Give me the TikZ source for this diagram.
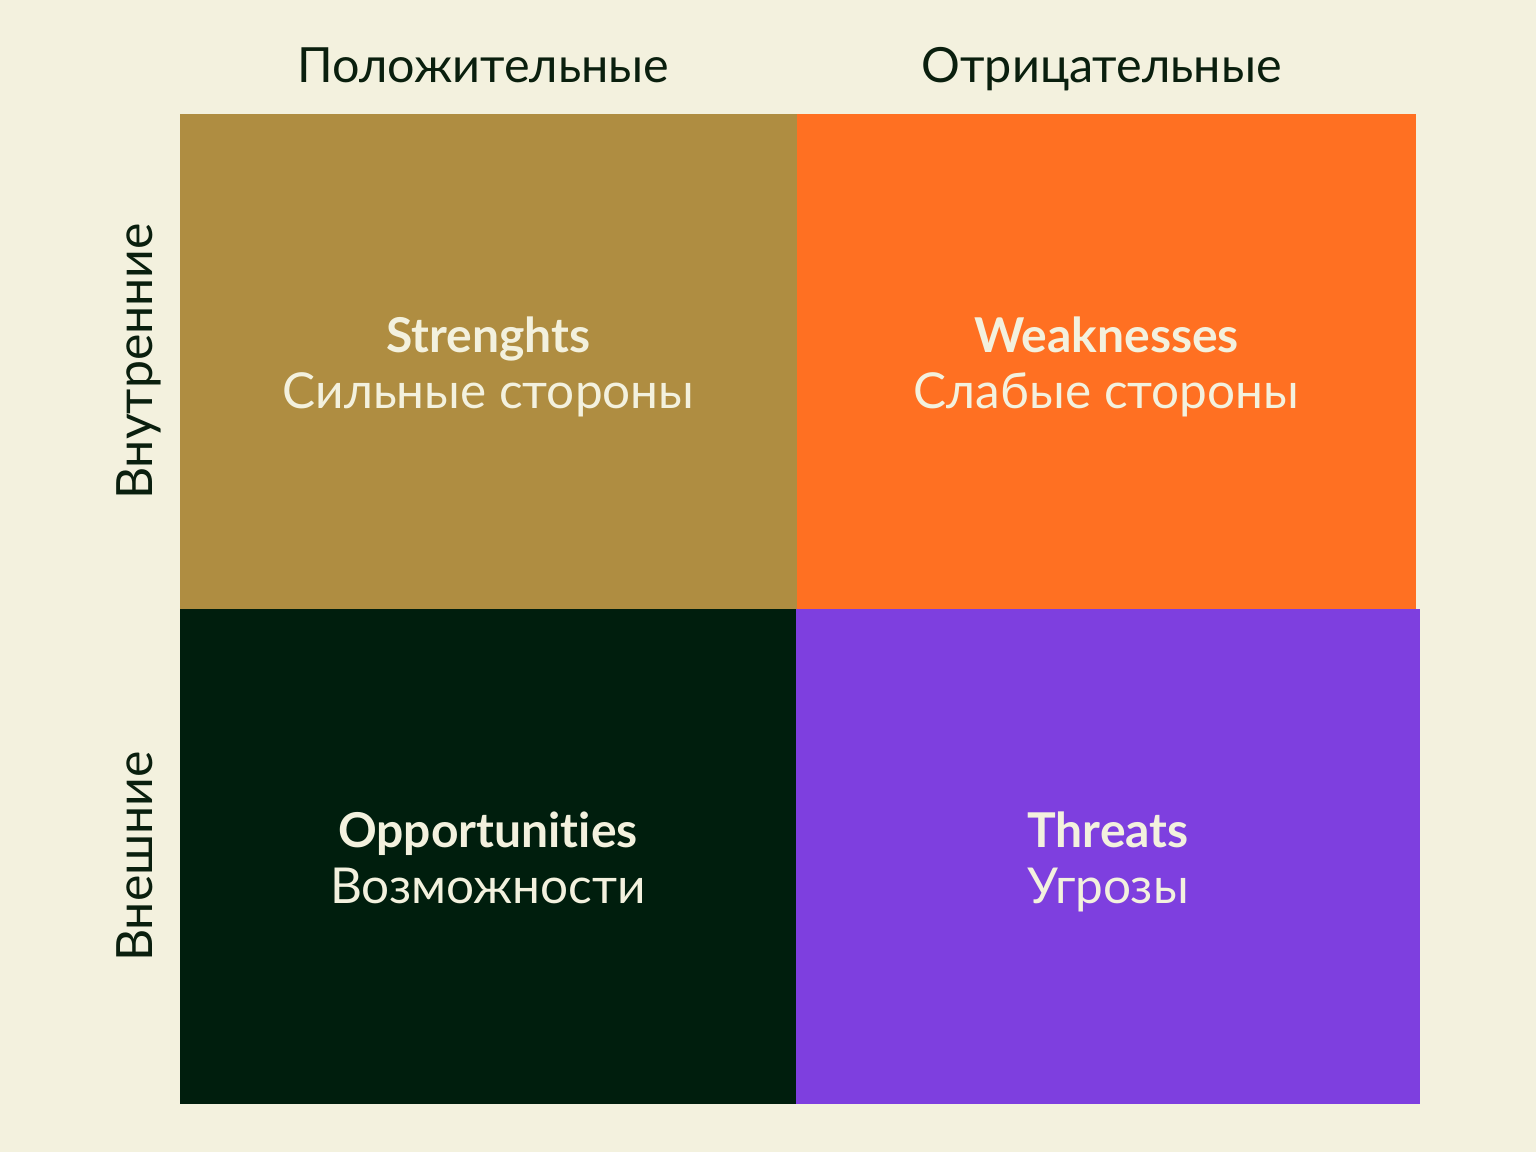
\documentclass[tikz,border=0pt]{standalone}
\usepackage{fontspec}
\setmainfont{Lato}[Ligatures=NoCommon]
\usetikzlibrary{positioning}
\definecolor{cream}{HTML}{F3F1DE}
\definecolor{ink}{HTML}{0A1F0E}
\definecolor{gold}{HTML}{AF8D41}
\definecolor{tangerine}{HTML}{FF7022}
\definecolor{forest}{HTML}{001E0D}
\definecolor{violet}{HTML}{7E3FDF}

\begin{document}
\begin{tikzpicture}[x=1pt,y=-1pt,
			quad/.style={rectangle,inner sep=0pt,minimum width=617pt,minimum height=495pt},
			head/.style={text=ink,font=\fontsize{48.5}{52}\selectfont,anchor=base},
			title/.style={text=cream,font=\fontsize{48}{52}\selectfont\bfseries,anchor=base},
			sub/.style={text=cream,font=\fontsize{49.5}{53}\selectfont,anchor=base}
			]
			\fill[cream] (0,0) rectangle (1536,1152);
			% quadrants
			\node[quad,fill=gold] (s) at (488.5,361.5) {};
			\node[quad,fill=tangerine,minimum width=619pt] (w) at (1106.5,361.5) {};
			\node[quad,fill=forest,minimum width=616pt] (o) at (488,856.5) {};
			\node[quad,fill=violet,minimum width=624pt] (t) at (1108,856.5) {};
			% headers
			\node[head] (pos) at ([xshift=-5pt,yshift=31pt]s.north) {Положительные};
			\node[head] (neg) at ([xshift=-5pt,yshift=31pt]w.north) {Отрицательные};
			\node[head,rotate=90,font=\fontsize{50}{54}\selectfont] (int) at ([xshift=-27pt]s.west) {Внутренние};
			\node[head,rotate=90,font=\fontsize{50}{54}\selectfont] (ext) at ([xshift=-27pt]o.west) {Внешние};
			% labels
			\node[title] (st) at ([yshift=9.5pt]s.center) {Strenghts};
			\node[sub] (ss) at ([yshift=-46.5pt]s.center) {Сильные стороны};
			\node[title] (wt) at ([yshift=9.5pt]w.center) {Weaknesses};
			\node[sub] (ws) at ([yshift=-46.5pt]w.center) {Слабые стороны};
			\node[title] (ot) at ([yshift=9.5pt]o.center) {Opportunities};
			\node[sub] (os) at ([yshift=-46.5pt]o.center) {Возможности};
			\node[title] (tt) at ([yshift=9.5pt]t.center) {Threats};
			\node[sub] (ts) at ([yshift=-46.5pt]t.center) {Угрозы};
\end{tikzpicture}
\end{document}
